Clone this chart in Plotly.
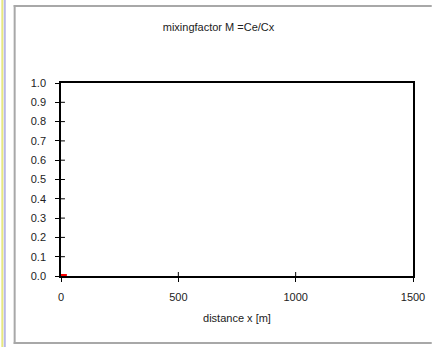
import plotly.graph_objects as go

# data
distance_m = [0, 10, 20, 25]
mixing_factor = [0.0, 0.0, 0.0, 0.0]
x_ticks = [0, 500, 1000, 1500]
y_ticks = [0.0, 0.1, 0.2, 0.3, 0.4, 0.5, 0.6, 0.7, 0.8, 0.9, 1.0]

FONT = "Liberation Sans, Arial, sans-serif"
L, R, T, B = 61, 19, 83, 71
PW, PH = 437 - L - R, 347 - T - B


def px(x):
    return (x - L) / PW


def py(y):
    return (347 - B - y) / PH


fig = go.Figure()
fig.add_trace(go.Scatter(x=distance_m, y=mixing_factor, mode="lines", cliponaxis=False,
                         line=dict(color="#ff0000", width=4), showlegend=False))

axis_common = dict(showgrid=False, zeroline=False, linecolor="#000000", linewidth=1.5,
                   tickcolor="#000000", ticklen=4, tickwidth=1, mirror=True, showline=True,
                   layer="below traces")

frame = dict(color="#a8a8a8", width=2)
shapes = [
    dict(type="line", xref="paper", yref="paper", x0=px(14), x1=px(14),
         y0=py(344), y1=py(5), line=frame),
    dict(type="rect", xref="paper", yref="paper", x0=px(13), x1=px(437),
         y0=py(7), y1=py(5), line=dict(width=0), fillcolor="#a8a8a8", layer="above"),
    dict(type="line", xref="paper", yref="paper", x0=px(13), x1=px(437),
         y0=py(343), y1=py(343), line=frame),
    dict(type="line", xref="paper", yref="paper", x0=px(1.5), x1=px(1.5),
         y0=py(347), y1=py(0), line=dict(color="#e8e880", width=2)),
    dict(type="line", xref="paper", yref="paper", x0=px(4), x1=px(4),
         y0=py(347), y1=py(0), line=dict(color="#b8b8e8", width=2)),
]
# crossing (inside) tick halves
for v in y_ticks[1:-1]:
    shapes.append(dict(type="line", xref="paper", yref="y", x0=0, x1=4 / PW, y0=v, y1=v,
                       line=dict(color="#000000", width=1)))
for v in x_ticks[1:-1]:
    shapes.append(dict(type="line", xref="x", yref="paper", x0=v, x1=v, y0=0, y1=4 / PH,
                       line=dict(color="#000000", width=1)))

fig.update_layout(
    width=437, height=347,
    margin=dict(l=L, r=R, t=T, b=B),
    paper_bgcolor="#ffffff", plot_bgcolor="#ffffff",
    font=dict(family=FONT, size=11, color="#222222"),
    title=dict(text="mixingfactor M =Ce/Cx", x=0.5, xanchor="center", y=1 - 27 / 347,
               yanchor="middle", font=dict(family=FONT, size=11, color="#222222")),
    xaxis=dict(range=[0, 1500], tickvals=x_ticks, ticktext=[str(v) for v in x_ticks],
               ticks="outside", ticklabelstandoff=6,
               title=dict(text="distance x [m]", standoff=12, font=dict(family=FONT, size=11)),
               **axis_common),
    yaxis=dict(range=[0, 1], tickvals=y_ticks, ticktext=[f"{v:.1f}" for v in y_ticks],
               ticks="outside", ticklabelstandoff=7, **axis_common),
    shapes=shapes,
)

fig.write_html("out.html", config={"displayModeBar": False},
               post_script="document.body.style.margin='0';")
